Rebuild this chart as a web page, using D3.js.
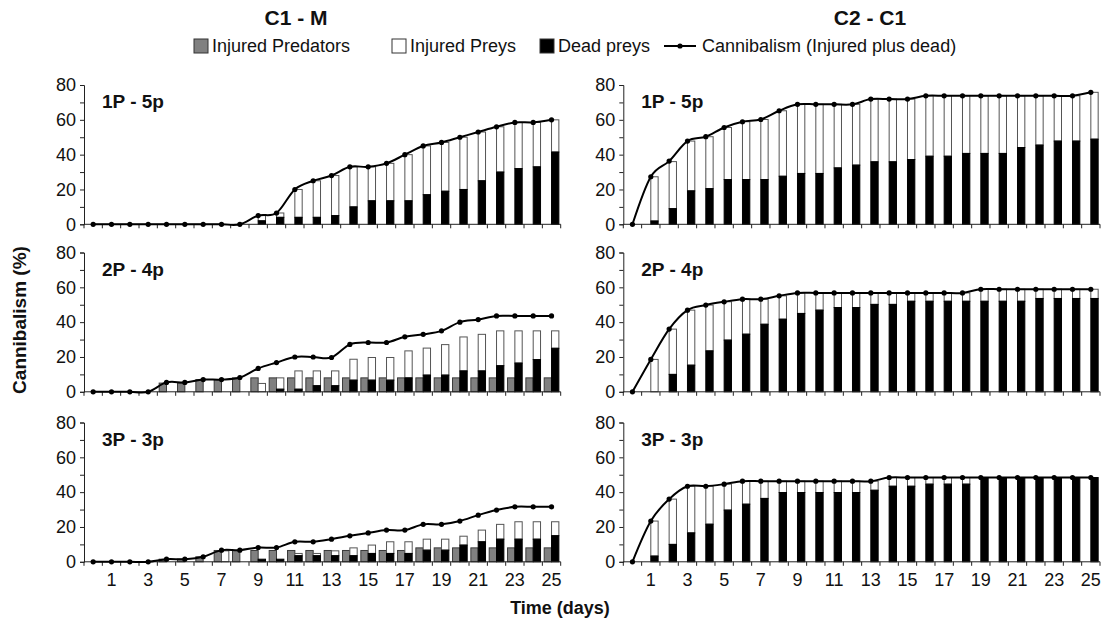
<!DOCTYPE html>
<html>
<head>
<meta charset="utf-8">
<script src="https://cdn.jsdelivr.net/npm/d3@7/dist/d3.min.js"></script>
<style>
    body { margin: 0; background: #fff; }
    svg text { font-family: Arial, "Liberation Sans", sans-serif; fill: #111; }
</style>
</head>
<body>
<div id="chart"></div>
<script>
// days 0..25 on the x axis, odd days labelled
const days = d3.range(0, 26);
const dayLabels = [1, 3, 5, 7, 9, 11, 13, 15, 17, 19, 21, 23, 25];
const yTicks = [0, 20, 40, 60, 80];
const colTitles = ["C1 - M", "C2 - C1"];
const rowLabels = ["1P - 5p", "2P - 4p", "3P - 3p"];
const legendLabels = ["Injured Predators", "Injured Preys", "Dead preys", "Cannibalism (Injured plus dead)"];

// ---- C1 - M, 1P - 5p
const m1Pred    = [0,0,0,0,0,0,0,0,0,0,0,0,0,0,0,0,0,0,0,0,0,0,0,0,0,0];
const m1Injured = [0,0,0,0,0,0,0,0,0,3,2.5,16,21,23,23,19.5,21.5,26.5,28,28,30,28,26,26.5,25.5,18.5];
const m1Dead    = [0,0,0,0,0,0,0,0,0,2,4,4,4,5,10,13.5,13.5,13.5,17,19,20,25,30,32,33,41.5];
const m1Total   = [0,0,0,0,0,0,0,0,0,5,6.5,20,25,28,33,33,35,40,45,47,50,53,56,58.5,58.5,60];

// ---- C1 - M, 2P - 4p
const m2Pred    = [0,0,0,0,5,5,7,7,8,8,8,8,8,8,8,8,8,8,8,8,8,8,8,8,8,8];
const m2Injured = [0,0,0,0,0,0,0,0,0,4.8,6.5,10.5,8.5,8.5,12,13,13,15.5,15.5,17.5,19.5,21,20,18.5,16.5,10];
const m2Dead    = [0,0,0,0,0,0,0,0,0,0,1.5,1.5,3.5,3.5,6.7,6.7,6.7,8,9.6,9.6,12,12,15,16.5,18.5,25];
const m2Total   = [0,0,0,0,5.4,5.4,7,7,8.2,13.4,16.8,20,20,19.7,27.2,28.3,28.3,31.6,33,35,40,41.5,43.6,43.6,43.6,43.6];

// ---- C1 - M, 3P - 3p
const m3Pred    = [0,0,0,0,1.5,1.5,2.9,6.5,6.5,6.5,6.5,6.5,6.5,6.5,6.5,6.5,6.5,6.5,8,8,8,8,8,8,8,8];
const m3Injured = [0,0,0,0,0,0,0,6.3,0,0,0,1.3,1.3,2.8,4.5,4.8,6.7,6.7,6.3,6.3,5.1,6.7,8.5,10,10,8];
const m3Dead    = [0,0,0,0,0,0,0,0,0,1.5,1.5,3.5,3.5,3.5,3.5,4.8,4.8,4.8,6.7,6.7,9.6,11.5,13,13,13,15];
const m3Total   = [0,0,0,0,1.5,1.5,2.9,6.7,6.7,8.2,8.2,11.5,11.5,13,14.9,16.6,18.2,18.2,21.5,21.5,23.4,26.8,29.7,31.6,31.6,31.6];

// ---- C2 - C1, 1P - 5p
const c1Pred    = [0,0,0,0,0,0,0,0,0,0,0,0,0,0,0,0,0,0,0,0,0,0,0,0,0,0];
const c1Injured = [0,25.4,27,28.6,29.8,29.9,33.2,34.5,37.6,39.7,39.7,36.5,34.9,36,36,34.7,34.7,34.7,33.1,33.1,33.1,29.7,28.3,26,26,26.9];
const c1Dead    = [0,1.9,9,19.2,20.5,25.7,25.7,25.7,27.6,29.2,29.2,32.4,34,35.9,35.9,37.2,39.1,39.1,40.7,40.7,40.7,44.1,45.5,47.8,47.8,48.9];
const c1Total   = [0,27.3,36.3,47.8,50.3,55.6,58.9,60.2,65.2,68.9,68.9,68.9,68.9,71.9,71.9,71.9,73.8,73.8,73.8,73.8,73.8,73.8,73.8,73.8,73.8,75.8];

// ---- C2 - C1, 2P - 4p
const c2Pred    = [0,0,0,0,0,0,0,0,0,0,0,0,0,0,0,0,0,0,0,0,0,0,0,0,0,0];
const c2Injured = [0,18.6,26,31.6,26.3,22,20.1,14.4,13.4,11.8,9.9,8.4,8.4,6.6,6.6,4.8,4.8,4.8,4.8,6.9,6.9,6.9,5.3,5.3,5.3,5.3];
const c2Dead    = [0,0,10,15.3,23.5,29.7,33.1,38.8,41.7,45,46.9,48.4,48.4,50.2,50.2,52,52,52,52,52,52,52,53.6,53.6,53.6,53.6];
const c2Total   = [0,18.6,36,46.9,49.8,51.7,53.2,53.2,55.1,56.8,56.8,56.8,56.8,56.8,56.8,56.8,56.8,56.8,56.8,58.9,58.9,58.9,58.9,58.9,58.9,58.9];

// ---- C2 - C1, 3P - 3p
const c3Pred    = [0,0,0,0,0,0,0,0,0,0,0,0,0,0,0,0,0,0,0,0,0,0,0,0,0,0];
const c3Injured = [0,20.1,26,26.8,21.8,14.9,13.2,9.9,6.5,6.5,6.5,6.5,6.5,5.2,5,5,3.8,3.8,3.8,0,0,0,0,0,0,0];
const c3Dead    = [0,3.3,10,16.6,21.6,29.7,33.1,36.4,39.8,39.8,39.8,39.8,39.8,41.1,43.4,43.4,44.6,44.6,44.6,48.4,48.4,48.4,48.4,48.4,48.4,48.4];
const c3Total   = [0,23.4,36,43.4,43.4,44.6,46.3,46.3,46.3,46.3,46.3,46.3,46.3,46.3,48.4,48.4,48.4,48.4,48.4,48.4,48.4,48.4,48.4,48.4,48.4,48.4];

const panels = [
    {col: 0, row: 0, pred: m1Pred, injured: m1Injured, dead: m1Dead, total: m1Total},
    {col: 0, row: 1, pred: m2Pred, injured: m2Injured, dead: m2Dead, total: m2Total},
    {col: 0, row: 2, pred: m3Pred, injured: m3Injured, dead: m3Dead, total: m3Total},
    {col: 1, row: 0, pred: c1Pred, injured: c1Injured, dead: c1Dead, total: c1Total},
    {col: 1, row: 1, pred: c2Pred, injured: c2Injured, dead: c2Dead, total: c2Total},
    {col: 1, row: 2, pred: c3Pred, injured: c3Injured, dead: c3Dead, total: c3Total}
];

const width = 1104, height = 628;
const colX = [[84, 560.7], [623.3, 1100]];   // plot left / right per column
const rowY = [85, 252.5, 422.5];              // top (value 80) per row
const plotH = 139.3;

const svg = d3.select("#chart").append("svg")
    .attr("width", width)
    .attr("height", height);

const predColor = "#808080", preyColor = "#ffffff", deadColor = "#000000";
const barStroke = "#3a3a3a";

panels.forEach(p => {
    let x = d3.scaleBand().domain(days).range(colX[p.col]).padding(0);
    let sub = d3.scaleBand().domain(["pred", "prey"]).range([0, x.bandwidth()])
        .paddingInner(0).paddingOuter(0.25);
    let y = d3.scaleLinear().domain([0, 80]).range([rowY[p.row] + plotH, rowY[p.row]]);

    let g = svg.append("g").attr("class", "panel");

    // y axis with minor ticks every 10
    let yAxis = d3.axisLeft(y).tickValues(d3.range(0, 81, 10)).tickSize(4).tickFormat("");
    g.append("g")
        .attr("transform", "translate(" + colX[p.col][0] + ",0)")
        .call(yAxis)
        .call(a => a.select(".domain").attr("stroke", "#222"))
        .call(a => a.selectAll(".tick line").attr("stroke", "#222"));

    g.selectAll(".ylab").data(yTicks).enter().append("text")
        .attr("class", "ylab")
        .attr("x", colX[p.col][0] - 8)
        .attr("y", d => y(d))
        .attr("dy", "0.35em")
        .style("text-anchor", "end")
        .style("font-size", "18px")
        .text(d => d);

    // bars
    let predBars = g.selectAll(".pred").data(days.filter(d => p.pred[d] > 0));
    predBars.enter().append("rect")
        .attr("class", "pred")
        .attr("x", d => x(d) + sub("pred"))
        .attr("width", sub.bandwidth())
        .attr("y", d => y(p.pred[d]))
        .attr("height", d => y(0) - y(p.pred[d]))
        .style("fill", predColor)
        .style("stroke", barStroke)
        .style("stroke-width", 1);

    let preyBars = g.selectAll(".prey").data(days.filter(d => p.injured[d] > 0));
    preyBars.enter().append("rect")
        .attr("class", "prey")
        .attr("x", d => x(d) + sub("prey"))
        .attr("width", sub.bandwidth())
        .attr("y", d => y(p.dead[d] + p.injured[d]))
        .attr("height", d => y(p.dead[d]) - y(p.dead[d] + p.injured[d]))
        .style("fill", preyColor)
        .style("stroke", "#555")
        .style("stroke-width", 1);

    let deadBars = g.selectAll(".dead").data(days.filter(d => p.dead[d] > 0));
    deadBars.enter().append("rect")
        .attr("class", "dead")
        .attr("x", d => x(d) + sub("prey"))
        .attr("width", sub.bandwidth())
        .attr("y", d => y(p.dead[d]))
        .attr("height", d => y(0) - y(p.dead[d]))
        .style("fill", deadColor)
        .style("stroke", "#000")
        .style("stroke-width", 1);

    // x axis: ticks on category boundaries
    let x0 = colX[p.col][0], x1 = colX[p.col][1];
    g.append("line")
        .attr("x1", x0).attr("x2", x1)
        .attr("y1", y(0)).attr("y2", y(0))
        .attr("stroke", "#222");
    g.selectAll(".xtick").data(days.concat([26])).enter().append("line")
        .attr("class", "xtick")
        .attr("x1", d => d < 26 ? x(d) : x1)
        .attr("x2", d => d < 26 ? x(d) : x1)
        .attr("y1", y(0)).attr("y2", y(0) + 4)
        .attr("stroke", "#222");

    if (p.row === 2) {
        g.selectAll(".xlab").data(dayLabels).enter().append("text")
            .attr("class", "xlab")
            .attr("x", d => x(d) + x.bandwidth() / 2)
            .attr("y", y(0) + 24)
            .style("text-anchor", "middle")
            .style("font-size", "18px")
            .text(d => d);
    }

    // cannibalism line (smoothed like the original)
    let line = d3.line()
        .x(d => x(d) + x.bandwidth() / 2)
        .y(d => y(p.total[d]))
        .curve(d3.curveCatmullRom.alpha(0));
    g.append("path")
        .datum(days)
        .attr("d", line)
        .attr("fill", "none")
        .attr("stroke", "#000")
        .attr("stroke-width", 2);
    g.selectAll(".dot").data(days).enter().append("circle")
        .attr("class", "dot")
        .attr("cx", d => x(d) + x.bandwidth() / 2)
        .attr("cy", d => y(p.total[d]))
        .attr("r", 2.6)
        .style("fill", "#000");

    // panel label
    g.append("text")
        .attr("x", colX[p.col][0] + 18)
        .attr("y", rowY[p.row] + 23)
        .style("font-size", "19px")
        .style("font-weight", "bold")
        .text(rowLabels[p.row]);
});

// column titles
svg.selectAll(".coltitle").data(colTitles).enter().append("text")
    .attr("class", "coltitle")
    .attr("x", (d, i) => i === 0 ? 296 : 870)
    .attr("y", 25)
    .style("text-anchor", "middle")
    .style("font-size", "21px")
    .style("font-weight", "bold")
    .text(d => d);

// legend
let legend = svg.append("g").attr("transform", "translate(0,46)");
let legendX = [194, 392, 540, 664];
let legendFill = [predColor, preyColor, deadColor];
legendLabels.forEach((lab, i) => {
    let lx = legendX[i];
    if (i < 3) {
        legend.append("rect")
            .attr("x", lx).attr("y", -7)
            .attr("width", 14).attr("height", 14)
            .style("fill", legendFill[i])
            .style("stroke", "#333");
        legend.append("text")
            .attr("x", lx + 18).attr("y", 0)
            .attr("dy", "0.35em")
            .style("font-size", "18px")
            .text(lab);
    } else {
        legend.append("line")
            .attr("x1", lx).attr("x2", lx + 32)
            .attr("y1", 0).attr("y2", 0)
            .attr("stroke", "#000").attr("stroke-width", 2);
        legend.append("circle")
            .attr("cx", lx + 16).attr("cy", 0).attr("r", 2.6)
            .style("fill", "#000");
        legend.append("text")
            .attr("x", lx + 38).attr("y", 0)
            .attr("dy", "0.35em")
            .style("font-size", "18px")
            .text(lab);
    }
});

// axis titles
svg.append("text")
    .style("text-anchor", "middle")
    .style("font-size", "19px")
    .style("font-weight", "bold")
    .attr("transform", "translate(" + 26 + "," + 320 + ") rotate(-90)")
    .text("Cannibalism (%)");

svg.append("text")
    .attr("x", 560)
    .attr("y", 614)
    .style("text-anchor", "middle")
    .style("font-size", "18px")
    .style("font-weight", "bold")
    .text("Time (days)");
</script>
</body>
</html>
